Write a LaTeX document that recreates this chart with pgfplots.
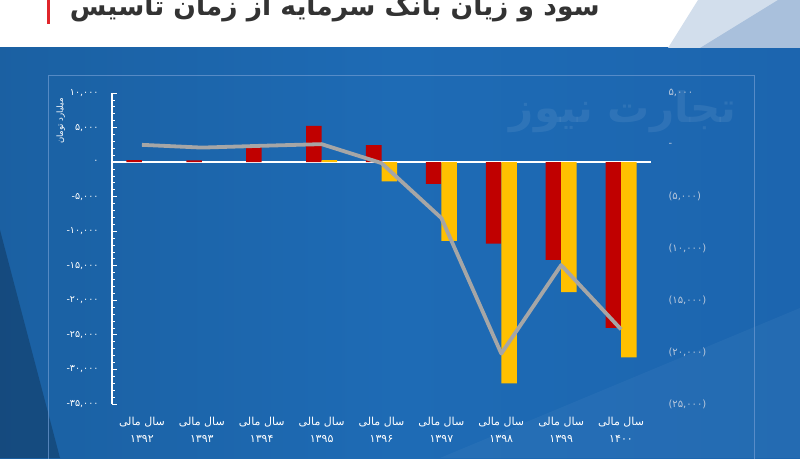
\documentclass[border=0pt]{standalone}
\usepackage{fontspec}
\usepackage{pgfplots}
\pgfplotsset{compat=1.18}
\TeXXeTstate=1
\newfontfamily\fa[Script=Arabic]{DejaVu Sans}
\newcommand{\mn}{\mbox{-}}
\definecolor{barred}{HTML}{C00000}
\definecolor{baryel}{HTML}{FFC000}
\definecolor{linegray}{HTML}{A6A6A6}
\definecolor{bgA}{HTML}{0F3E6F}
\definecolor{bgB}{HTML}{185894}
\definecolor{bgC}{HTML}{1E6BB5}
\definecolor{bgD}{HTML}{1A5FA8}
\definecolor{titlegray}{HTML}{333333}
\definecolor{rlab}{HTML}{B9C8DC}
\definecolor{framec}{HTML}{6F9BD2}
\definecolor{triA}{HTML}{D2DEEC}
\definecolor{triB}{HTML}{A9C0DC}
\definecolor{titlered}{HTML}{E0262B}
\pgfdeclarehorizontalshading{bgshade}{100bp}{color(0bp)=(bgA); color(6bp)=(bgB); color(50bp)=(bgC); color(100bp)=(bgD)}
\begin{document}
\begin{tikzpicture}[x=1pt,y=1pt]
\useasboundingbox (0,0) rectangle (800,458);
\clip (0,0) rectangle (800,458);
\fill[white] (0,0) rectangle (800,458);
\shade[shading=bgshade] (0,0) rectangle (800,410);
\fill[black, opacity=0.22] (0,228) -- (0,0) -- (60,0) -- cycle;
\fill[white, opacity=0.04] (440,0) -- (800,0) -- (800,150) -- cycle;
\draw[framec, opacity=0.7, line width=0.8pt] (48,-5) -- (48,383) -- (754,383) -- (754,-5);
\fill[triA] (668,410) -- (698,458) -- (800,458) -- (800,410) -- cycle;
\fill[triB] (700,410) -- (778,458) -- (800,458) -- (800,410) -- cycle;
\fill[titlered] (46.5,434) rectangle (49.5,458);
\node[anchor=base east, font=\fa\bfseries\fontsize{26.5}{26.5}\selectfont, text=titlegray, inner sep=0pt] at (600,442) {\beginR سود و زیان بانک سرمایه از زمان تاسیس\endR};
\node[font=\fa\bfseries\fontsize{42}{42}\selectfont, text=white, opacity=0.08] at (623,346) {\beginR تجارت نیوز\endR};
\begin{axis}[
  at={(112pt,54pt)}, anchor=south west, scale only axis, width=539pt, height=311pt,
  xmin=-0.5, xmax=8.5, ymin=-35000, ymax=10000,
  axis x line*=bottom, axis y line*=left,
  x axis line style={draw=none},
  xtick={0,...,8}, xtick style={draw=none},
  xticklabels={{\beginR سال مالی\endR\\۱۳۹۲},{\beginR سال مالی\endR\\۱۳۹۳},{\beginR سال مالی\endR\\۱۳۹۴},{\beginR سال مالی\endR\\۱۳۹۵},{\beginR سال مالی\endR\\۱۳۹۶},{\beginR سال مالی\endR\\۱۳۹۷},{\beginR سال مالی\endR\\۱۳۹۸},{\beginR سال مالی\endR\\۱۳۹۹},{\beginR سال مالی\endR\\۱۴۰۰}},
  xticklabel style={font=\fa\fontsize{11}{16.5}\selectfont, text=white, align=center, yshift=-10pt},
  ytick={-35000,-30000,...,10000},
  yticklabels={{\mn\mbox{۳۵,۰۰۰}},{\mn\mbox{۳۰,۰۰۰}},{\mn\mbox{۲۵,۰۰۰}},{\mn\mbox{۲۰,۰۰۰}},{\mn\mbox{۱۵,۰۰۰}},{\mn\mbox{۱۰,۰۰۰}},{\mn\mbox{۵,۰۰۰}},{۰},{۵,۰۰۰},{۱۰,۰۰۰}},
  yticklabel style={font=\fa\fontsize{9.5}{11}\selectfont, text=white, anchor=east, xshift=-10pt},
  minor y tick num=4,
  y axis line style={white, line width=1.2pt},
  tick align=inside, major tick length=5pt, minor tick length=3pt,
  ytick style={white, line width=0.8pt},
  extra y ticks={0}, extra y tick labels={},
  extra y tick style={grid=major, major grid style={white, line width=1.3pt}},
  scaled y ticks=false,
  clip=false,
]
\addplot[ybar, bar width=15.5pt, bar shift=-7.75pt, fill=barred, draw=none] coordinates {(0,300) (1,250) (2,2300) (3,5250) (4,2450) (5,-3150) (6,-11800) (7,-14150) (8,-24000)};
\addplot[ybar, bar width=15.5pt, bar shift=7.75pt, fill=baryel, draw=none] coordinates {(3,300) (4,-2800) (5,-11400) (6,-32000) (7,-18800) (8,-28250)};
\addplot[linegray, line width=3.8pt, line join=round, mark=none] coordinates {(0,2500) (1,2100) (2,2360) (3,2600) (4,-140) (5,-8100) (6,-27700) (7,-14900) (8,-24200)};
\node[rotate=90, font=\fa\fontsize{8.5}{8.5}\selectfont, text=white] at (rel axis cs:-0.095,0.91) {\beginR میلیارد تومان\endR};
\end{axis}
\begin{axis}[
  at={(112pt,54pt)}, anchor=south west, scale only axis, width=539pt, height=311pt,
  xmin=-0.5, xmax=8.5, ymin=-25000, ymax=5000,
  axis x line=none, axis y line*=right,
  y axis line style={draw=none},
  ytick={-25000,-20000,...,5000}, ytick style={draw=none}, major tick length=0pt,
  yticklabels={{(۲۵,۰۰۰)},{(۲۰,۰۰۰)},{(۱۵,۰۰۰)},{(۱۰,۰۰۰)},{(۵,۰۰۰)},{-},{۵,۰۰۰}},
  yticklabel style={font=\fa\fontsize{10}{12}\selectfont, text=rlab, anchor=west, xshift=14pt},
  scaled y ticks=false,
]
\end{axis}
\end{tikzpicture}
\end{document}
